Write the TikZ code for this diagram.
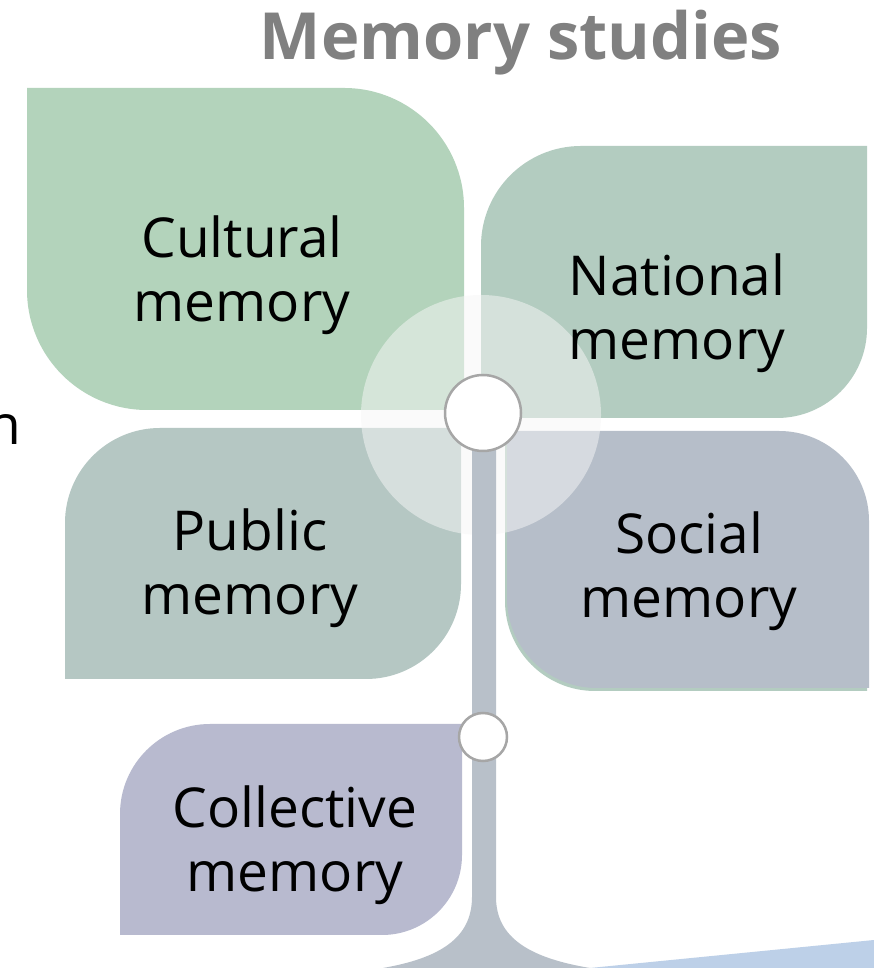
\documentclass[tikz,border=0pt]{standalone}
\usepackage{fontspec}
\setmainfont{Open Sans}
\usetikzlibrary{positioning}

\definecolor{culturalgreen}{HTML}{B3D3BB}
\definecolor{nationalgreen}{HTML}{B3CCC0}
\definecolor{publicgreen}{HTML}{B5C7C3}
\definecolor{socialgray}{HTML}{B6BEC9}
\definecolor{collectiveblue}{HTML}{B8BACF}
\definecolor{stemgray}{HTML}{B8C0C9}
\definecolor{groundblue}{HTML}{BDD0E8}
\definecolor{ringgray}{HTML}{A6A6A6}
\definecolor{titlegray}{HTML}{808080}

\tikzset{
    leaflabel/.style={font=\fontsize{55}{64}\selectfont, align=center, text=black, inner sep=0pt},
    knot/.style={circle, fill=white, draw=ringgray, line width=2.5pt, inner sep=0pt},
}

\begin{document}
\begin{tikzpicture}[x=1pt, y=1pt]
    % Background
    \useasboundingbox (0,0) rectangle (874,968);
    \fill[white] (0,0) rectangle (874,968);

    % Title
    \node[font=\fontsize{65}{70}\selectfont\bfseries, text=titlegray, anchor=base] (title) at (521,908) {Memory studies};

    % Word cut off at the left edge
    \node[font=\fontsize{55}{64}\selectfont, anchor=base east, inner sep=0pt] (cutoff) at (21,523) {n};

    % Ground
    \fill[groundblue] (590,0) -- (874,28) -- (874,0) -- cycle;

    % Leaves
    \fill[culturalgreen] (27,880) -- (344,880) arc[start angle=90, end angle=0, radius=120pt]
        -- (464,558) -- (147,558) arc[start angle=270, end angle=180, radius=120pt] -- cycle;
    \fill[nationalgreen] (481,550) -- (481,722) arc[start angle=180, end angle=90, radius=100pt]
        -- (867,822) -- (867,640) arc[start angle=0, end angle=-90, radius=90pt] -- cycle;
    \fill[publicgreen] (65,289) -- (65,445) arc[start angle=180, end angle=90, radius=95pt]
        -- (461,540) -- (461,384) arc[start angle=0, end angle=-90, radius=95pt] -- cycle;
    \fill[nationalgreen, xshift=-2pt, yshift=-3pt] (507,537) -- (779,537) arc[start angle=90, end angle=0, radius=90pt]
        -- (869,280) -- (597,280) arc[start angle=270, end angle=180, radius=90pt] -- cycle;
    \fill[socialgray] (507,537) -- (779,537) arc[start angle=90, end angle=0, radius=90pt]
        -- (869,280) -- (597,280) arc[start angle=270, end angle=180, radius=90pt] -- cycle;
    \fill[collectiveblue] (120,33) -- (120,154) arc[start angle=180, end angle=90, radius=90pt]
        -- (462,244) -- (462,113) arc[start angle=0, end angle=-90, radius=80pt] -- cycle;

    % Soft halo round the crown
    \fill[gray!6, opacity=0.5] (481,553) circle[radius=120pt];

    % Stem
    \fill[stemgray] (472,555) -- (472,71) .. controls (472,30) and (440,10) .. (383,0)
        -- (590,0) .. controls (530,10) and (496,30) .. (496,71) -- (496,555) -- cycle;

    % Knots on the stem
    \node[knot, minimum size=76pt] (crown) at (483,555) {};
    \node[knot, minimum size=48pt] (joint) at (483,231) {};

    % Labels
    \node[leaflabel] (cultural) at (242,693) {Cultural\\memory};
    \node[leaflabel] (national) at (677,655) {National\\memory};
    \node[leaflabel] (public) at (250,400) {Public\\memory};
    \node[leaflabel] (social) at (689,397) {Social\\memory};
    \node[leaflabel] (collective) at (295,123) {Collective\\memory};
\end{tikzpicture}
\end{document}
